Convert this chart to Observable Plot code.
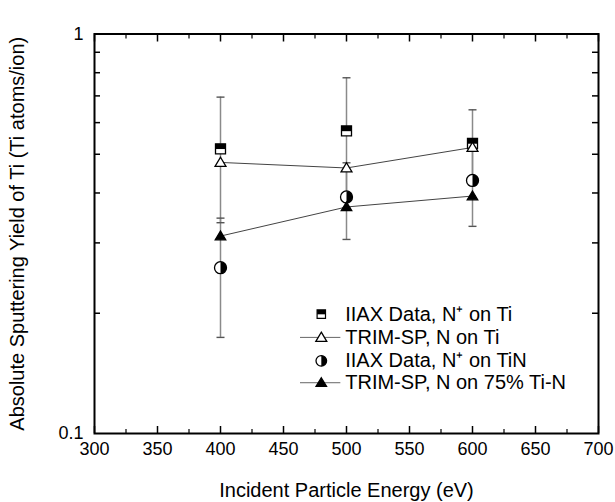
<!DOCTYPE html>
<html>
<head>
<meta charset="utf-8">
<script src="https://cdn.jsdelivr.net/npm/d3@7"></script>
<script src="https://cdn.jsdelivr.net/npm/@observablehq/plot@0.6"></script>
<style>
  html, body { margin: 0; padding: 0; background: #fff; }
</style>
</head>
<body>
<div id="chart"></div>
<script>
// ---- data ----
const energies   = [400, 500, 600];
const iiaxTi     = [0.516, 0.572, 0.532];   // IIAX Data, N+ on Ti
const iiaxTiErr  = [0.179, 0.205, 0.114];
const trimTi     = [0.477, 0.462, 0.520];   // TRIM-SP, N on Ti
const iiaxTiN    = [0.260, 0.391, 0.430];   // IIAX Data, N+ on TiN
const iiaxTiNErr = [0.086, 0.085, 0.100];
const trimTiN    = [0.312, 0.369, 0.393];   // TRIM-SP, N on 75% Ti-N

const xMajor = [300, 350, 400, 450, 500, 550, 600, 650, 700];
const xMinor = [325, 375, 425, 475, 525, 575, 625, 675];
const yLabels = [0.1, 1];
const yMinor = [0.2, 0.3, 0.4, 0.5, 0.6, 0.7, 0.8, 0.9];

const legendLabels = ["IIAX Data, N⁺ on Ti", "TRIM-SP, N on Ti", "IIAX Data, N⁺ on TiN", "TRIM-SP, N on 75% Ti-N"];
const legendY = [0.199, 0.174, 0.152, 0.134];
const legendMarkX = 480, legendLineX1 = 463.5, legendLineX2 = 495.5, legendTextX = 499;

// ---- build tables ----
const rows = (vals, errs) => energies.map((e, i) => ({x: e, y: vals[i], lo: errs ? vals[i] - errs[i] : null, hi: errs ? vals[i] + errs[i] : null}));
const sqData = rows(iiaxTi, iiaxTiErr);
const ciData = rows(iiaxTiN, iiaxTiNErr);
const trTi = rows(trimTi);
const trTiN = rows(trimTiN);
const errAll = [...sqData, ...ciData];
const caps = errAll.flatMap(d => [{x: d.x, y: d.lo}, {x: d.x, y: d.hi}]);
const legend = legendLabels.map((t, i) => ({t, y: legendY[i]}));

// ---- custom symbols ----
const rad = size => Math.sqrt(size / Math.PI);
const squareSym = {draw(c, s) { const r = rad(s); c.rect(-r, -r, 2 * r, 2 * r); }};
const squareTopSym = {draw(c, s) { const r = rad(s); c.rect(-r, -r, 2 * r, r * 1.05); }};
const circleSym = {draw(c, s) { const r = rad(s); c.moveTo(r, 0); c.arc(0, 0, r, 0, 2 * Math.PI); }};
const circleRightSym = {draw(c, s) { const r = rad(s); c.moveTo(0, -r); c.arc(0, 0, r, -Math.PI / 2, Math.PI / 2); c.closePath(); }};
const triSym = {draw(c, s) { const r = rad(s); c.moveTo(0, -r); c.lineTo(r * 1.05, r * 0.75); c.lineTo(-r * 1.05, r * 0.75); c.closePath(); }};
const capSym = {draw(c, s) { const r = rad(s); c.moveTo(-r, 0); c.lineTo(r, 0); }};

const W = 615, H = 502;
const mL = 94, mR = 17, mT = 33.5, mB = 69;
const plotW = W - mL - mR, plotH = H - mT - mB;

const chart = Plot.plot({
  width: W, height: H,
  marginLeft: mL, marginRight: mR, marginTop: mT, marginBottom: mB,
  style: {fontFamily: "'Liberation Sans', Arial, sans-serif", fontSize: "18px", color: "#000", background: "#fff"},
  x: {domain: [300, 700]},
  y: {type: "log", domain: [0.1, 1]},
  marks: [
    // axes labels
    Plot.axisX(xMajor, {tickSize: 0, tickPadding: 9, tickFormat: d => String(d), label: null, fontSize: 18}),
    Plot.axisX({ticks: [], label: "Incident Particle Energy (eV)", labelAnchor: "center", labelOffset: 63, labelArrow: "none", fontSize: 20, tickSize: 0}),
    Plot.axisY(yLabels, {tickSize: 0, tickPadding: 11, tickFormat: d => String(d), label: null, fontSize: 18}),
    Plot.axisY({ticks: [], label: "Absolute Sputtering Yield of Ti (Ti atoms/ion)", labelAnchor: "center", labelOffset: 85, labelArrow: "none", fontSize: 20, tickSize: 0}),
    // inward ticks
    Plot.ruleX(xMajor, {x: d => d, insetTop: plotH - 7, stroke: "#000", strokeWidth: 1.5}),
    Plot.ruleX(xMinor, {x: d => d, insetTop: plotH - 4, stroke: "#000", strokeWidth: 1.2}),
    Plot.ruleX(xMajor, {x: d => d, insetBottom: plotH - 8, stroke: "#000", strokeWidth: 1.5}),
    Plot.ruleX(xMinor, {x: d => d, insetBottom: plotH - 5, stroke: "#000", strokeWidth: 1.2}),
    Plot.ruleY(yMinor, {y: d => d, insetRight: plotW - 6, stroke: "#000", strokeWidth: 1.5}),
    Plot.ruleY(yMinor, {y: d => d, insetLeft: plotW - 6, stroke: "#000", strokeWidth: 1.5}),
    Plot.frame({stroke: "#000", strokeWidth: 2}),
    // error bars
    Plot.ruleX(errAll, {x: "x", y1: "lo", y2: "hi", stroke: "#8a8a8a", strokeWidth: 1.5}),
    Plot.dot(caps, {x: "x", y: "y", symbol: capSym, r: 4, stroke: "#555", strokeWidth: 1.4, fill: "none"}),
    // model lines
    Plot.line(trTi, {x: "x", y: "y", stroke: "#444", strokeWidth: 1}),
    Plot.line(trTiN, {x: "x", y: "y", stroke: "#444", strokeWidth: 1}),
    // markers
    Plot.dot(sqData, {x: "x", y: "y", symbol: squareSym, r: 5, fill: "#fff", stroke: "#000", strokeWidth: 1.3}),
    Plot.dot(sqData, {x: "x", y: "y", symbol: squareTopSym, r: 5, fill: "#000", stroke: "none"}),
    Plot.dot(trTi, {x: "x", y: "y", symbol: triSym, r: 5.2, fill: "#fff", stroke: "#000", strokeWidth: 1.3}),
    Plot.dot(ciData, {x: "x", y: "y", symbol: circleSym, r: 6, fill: "#fff", stroke: "#000", strokeWidth: 1.3}),
    Plot.dot(ciData, {x: "x", y: "y", symbol: circleRightSym, r: 6, fill: "#000", stroke: "none"}),
    Plot.dot(trTiN, {x: "x", y: "y", symbol: triSym, r: 5, fill: "#000", stroke: "#000", strokeWidth: 1.3}),
    // legend
    Plot.ruleY([legend[1], legend[3]], {y: "y", x1: legendLineX1, x2: legendLineX2, stroke: "#666", strokeWidth: 1}),
    Plot.dot([legend[0]], {x: legendMarkX, y: "y", symbol: squareSym, r: 4.2, fill: "#fff", stroke: "#000", strokeWidth: 1.2}),
    Plot.dot([legend[0]], {x: legendMarkX, y: "y", symbol: squareTopSym, r: 4.2, fill: "#000", stroke: "none"}),
    Plot.dot([legend[1]], {x: legendMarkX, y: "y", symbol: triSym, r: 5.2, fill: "#fff", stroke: "#000", strokeWidth: 1.3}),
    Plot.dot([legend[2]], {x: legendMarkX, y: "y", symbol: circleSym, r: 5.3, fill: "#fff", stroke: "#000", strokeWidth: 1.3}),
    Plot.dot([legend[2]], {x: legendMarkX, y: "y", symbol: circleRightSym, r: 5.3, fill: "#000", stroke: "none"}),
    Plot.dot([legend[3]], {x: legendMarkX, y: "y", symbol: triSym, r: 5, fill: "#000", stroke: "#000", strokeWidth: 1.3}),
    Plot.text(legend, {x: legendTextX, y: "y", text: "t", textAnchor: "start", fontSize: 20, fill: "#000"})
  ]
});
document.getElementById("chart").appendChild(chart);
</script>
</body>
</html>
